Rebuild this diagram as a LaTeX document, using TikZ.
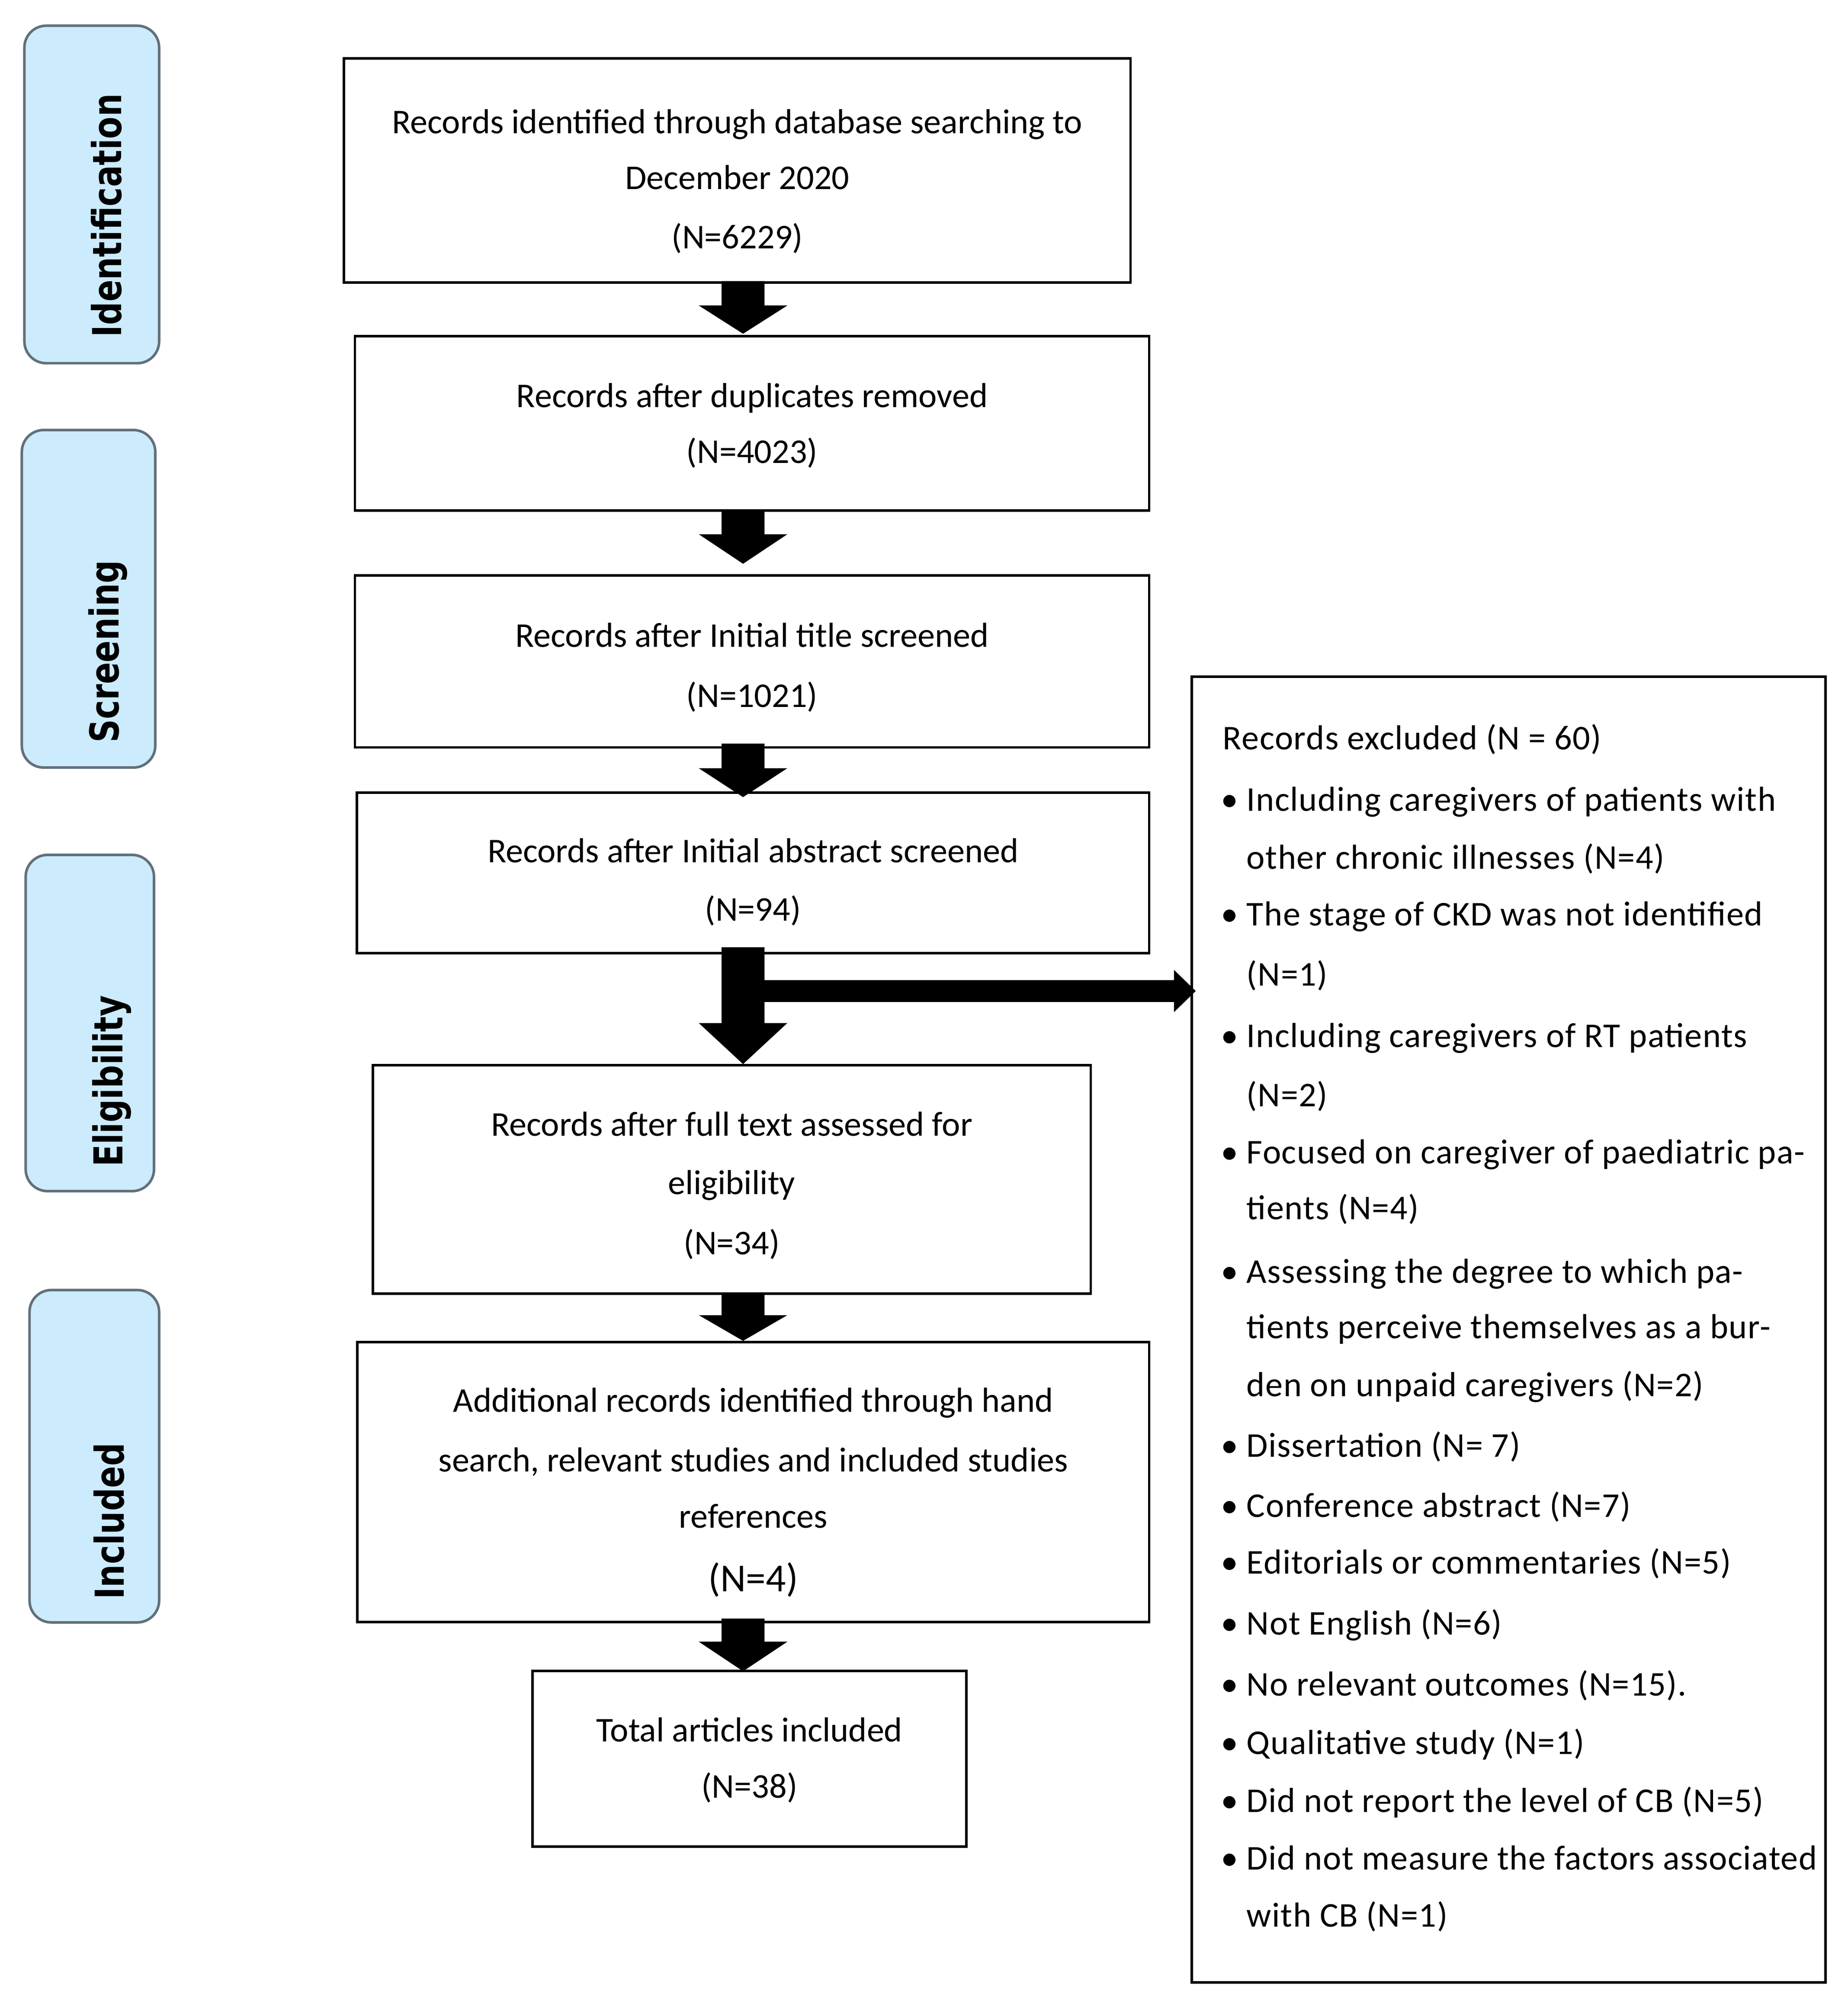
\documentclass[tikz,border=0pt]{standalone}
\usepackage{fontspec}
\setmainfont{Carlito}
\newfontfamily\exclfont[LetterSpace=2]{Carlito}
\newfontfamily\sidefont[FakeStretch=0.81]{DejaVu Sans}
\usetikzlibrary{calc}
\definecolor{sidefill}{HTML}{CCEBFC}
\definecolor{sideline}{HTML}{62707A}
% block arrow: #1 start (shaft top), #2 tip, #3 head length
\newcommand\blockarrow[3]{%
  \fill[black] ($(#1)+(-16.75,0)$) -- ($(#2)+(-16.75,-#3)$) -- ($(#2)+(-34.5,-#3)$) -- (#2)
    -- ($(#2)+(34.5,-#3)$) -- ($(#2)+(16.75,-#3)$) -- ($(#1)+(16.75,0)$) -- cycle;}
\tikzset{
  box/.style={draw=black, line width=0.04cm, inner sep=0pt},
  sidebox/.style={draw=sideline, fill=sidefill, line width=0.04cm, rounded corners=0.34cm, inner sep=0pt},
  sidetext/.style={rotate=90, anchor=base west, inner sep=0pt, font=\sidefont\bfseries\fontsize{17.7}{20}\selectfont},
  mtext/.style={anchor=base, inner sep=0pt, font=\fontsize{15.4}{18}\selectfont},
  mbig/.style={anchor=base, inner sep=0pt, font=\fontsize{17.6}{20}\selectfont},
  etext/.style={anchor=base west, inner sep=0pt, font=\exclfont\fontsize{15.4}{18}\selectfont},
  bul/.style={anchor=base, inner sep=0pt, font=\fontsize{15.4}{18}\selectfont}
}
\begin{document}
\begin{tikzpicture}[x=0.02cm,y=-0.02cm]
\useasboundingbox (0,0) rectangle (1440,1566.74);

% side labels
\node[sidebox, minimum width=2.1cm, minimum height=5.26cm] (sid) at (71.5,151.5) {};
\node[sidetext] (sidt) at (94.5,263) {Identification};
\node[sidebox, minimum width=2.08cm, minimum height=5.26cm] (ssc) at (69,466.5) {};
\node[sidetext] (ssct) at (92.5,579) {Screening};
\node[sidebox, minimum width=2.0cm, minimum height=5.24cm] (sel) at (70,797) {};
\node[sidetext] (selt) at (95.5,909.4) {Eligibility};
\node[sidebox, minimum width=2.02cm, minimum height=5.18cm] (sin) at (73.5,1134.5) {};
\node[sidetext] (sint) at (96.5,1246.5) {Included};

% main boxes
\node[box, minimum width=12.26cm, minimum height=3.49cm] (b1) at (574.5,132.75) {};
\node[box, minimum width=12.38cm, minimum height=2.712cm] (b2) at (586,329.8) {};
\node[box, minimum width=12.38cm, minimum height=2.682cm] (b3) at (586,515.25) {};
\node[box, minimum width=12.35cm, minimum height=2.502cm] (b4) at (586.75,680.05) {};
\node[box, minimum width=11.192cm, minimum height=3.56cm] (b5) at (570.2,919) {};
\node[box, minimum width=12.342cm, minimum height=4.36cm] (b6) at (586.95,1154.6) {};
\node[box, minimum width=6.76cm, minimum height=2.738cm] (b7) at (584,1370.15) {};
\node[box, minimum width=9.876cm, minimum height=20.35cm] (excl) at (1175.6,1035.75) {};

% main box texts
\node[mtext] (t1a) at (574.5,104) {Records identified through database searching to};
\node[mtext] (t1b) at (574.5,147.4) {December 2020};
\node[mtext] (t1c) at (574.5,193.7) {(N=6229)};
\node[mtext] (t2a) at (586,317.3) {Records after duplicates removed};
\node[mtext] (t2b) at (586,361) {(N=4023)};
\node[mtext] (t3a) at (586,504) {Records after Initial title screened};
\node[mtext] (t3b) at (586,551) {(N=1021)};
\node[mtext] (t4a) at (586.75,672) {Records after Initial abstract screened};
\node[mtext] (t4b) at (586.75,717.5) {(N=94)};
\node[mtext] (t5a) at (570.2,885) {Records after full text assessed for};
\node[mtext] (t5b) at (570.2,930.6) {eligibility};
\node[mtext] (t5c) at (570.2,977.5) {(N=34)};
\node[mtext] (t6a) at (586.95,1100) {Additional records identified through hand};
\node[mtext] (t6b) at (586.95,1146.7) {search, relevant studies and included studies};
\node[mtext] (t6c) at (586.95,1190.5) {references};
\node[mbig] (t6d) at (586.95,1240) {(N=4)};
\node[mtext] (t7a) at (584,1357) {Total articles included};
\node[mtext] (t7b) at (584,1400.8) {(N=38)};

% exclusion texts
\node[etext] (e0) at (952.5,584) {Records excluded (N = 60)};
\node[bul] (u1) at (958,631.7) {•};
\node[etext] (e1) at (971,631.7) {Including caregivers of patients with};
\node[etext] (e2) at (971,677) {other chronic illnesses (N=4)};
\node[bul] (u3) at (958,721) {•};
\node[etext] (e3) at (971,721) {The stage of CKD was not identified};
\node[etext] (e4) at (971,768) {(N=1)};
\node[bul] (u5) at (958,816) {•};
\node[etext] (e5) at (971,816) {Including caregivers of RT patients};
\node[etext] (e6) at (971,862) {(N=2)};
\node[bul] (u7) at (958,906.7) {•};
\node[etext] (e7) at (971,906.7) {Focused on caregiver of paediatric pa-};
\node[etext] (e8) at (971,950) {tients (N=4)};
\node[bul] (u9) at (958,999.6) {•};
\node[etext] (e9) at (971,999.6) {Assessing the degree to which pa-};
\node[etext] (e10) at (971,1042.6) {tients perceive themselves as a bur-};
\node[etext] (e11) at (971,1088) {den on unpaid caregivers (N=2)};
\node[bul] (u12) at (958,1135) {•};
\node[etext] (e12) at (971,1135) {Dissertation (N= 7)};
\node[bul] (u13) at (958,1182) {•};
\node[etext] (e13) at (971,1182) {Conference abstract (N=7)};
\node[bul] (u14) at (958,1226) {•};
\node[etext] (e14) at (971,1226) {Editorials or commentaries (N=5)};
\node[bul] (u15) at (958,1273.7) {•};
\node[etext] (e15) at (971,1273.7) {Not English (N=6)};
\node[bul] (u16) at (958,1321) {•};
\node[etext] (e16) at (971,1321) {No relevant outcomes (N=15).};
\node[bul] (u17) at (958,1366.5) {•};
\node[etext] (e17) at (971,1366.5) {Qualitative study (N=1)};
\node[bul] (u18) at (958,1412) {•};
\node[etext] (e18) at (971,1412) {Did not report the level of CB (N=5)};
\node[bul] (u19) at (958,1456.5) {•};
\node[etext] (e19) at (971,1456.5) {Did not measure the factors associated};
\node[etext] (e20) at (971,1501) {with CB (N=1)};

% arrows
\coordinate (ax) at (579,0);
\coordinate (a1s) at ($(b1.south -| ax)+(0,-2)$);
\coordinate (a1e) at ($(b2.north -| ax)+(0,-1)$);
\coordinate (a2s) at ($(b2.south -| ax)+(0,-1)$);
\coordinate (a2e) at ($(b3.north -| ax)+(0,-8)$);
\coordinate (a3s) at ($(b3.south -| ax)+(0,-4)$);
\coordinate (a3e) at ($(b4.north -| ax)+(0,4.5)$);
\coordinate (a4s) at ($(b4.south -| ax)+(0,-5.6)$);
\coordinate (a4e) at ($(b5.north -| ax)+(0,0)$);
\coordinate (a5s) at ($(b5.south -| ax)+(0,-2)$);
\coordinate (a5e) at ($(b6.north -| ax)+(0,0)$);
\coordinate (a6s) at ($(b6.south -| ax)+(0,-3.6)$);
\coordinate (a6e) at ($(b7.north -| ax)+(0,1.3)$);
\blockarrow{a1s}{a1e}{22}
\blockarrow{a2s}{a2e}{23}
\blockarrow{a3s}{a3e}{22.5}
\blockarrow{a4s}{a4e}{32}
\blockarrow{a5s}{a5e}{20}
\blockarrow{a6s}{a6e}{23}
% branch to exclusion box
\coordinate (hs) at ($(b4.south -| ax)+(0,28.5)$);
\coordinate (he) at ($(excl.west |- hs)+(4,0)$);
\fill[black] ($(hs)+(0,-8.5)$) -- ($(he)+(-17,-8.5)$) -- ($(he)+(-17,-16.5)$) -- (he)
  -- ($(he)+(-17,16.5)$) -- ($(he)+(-17,8.5)$) -- ($(hs)+(0,8.5)$) -- cycle;
\end{tikzpicture}
\end{document}
